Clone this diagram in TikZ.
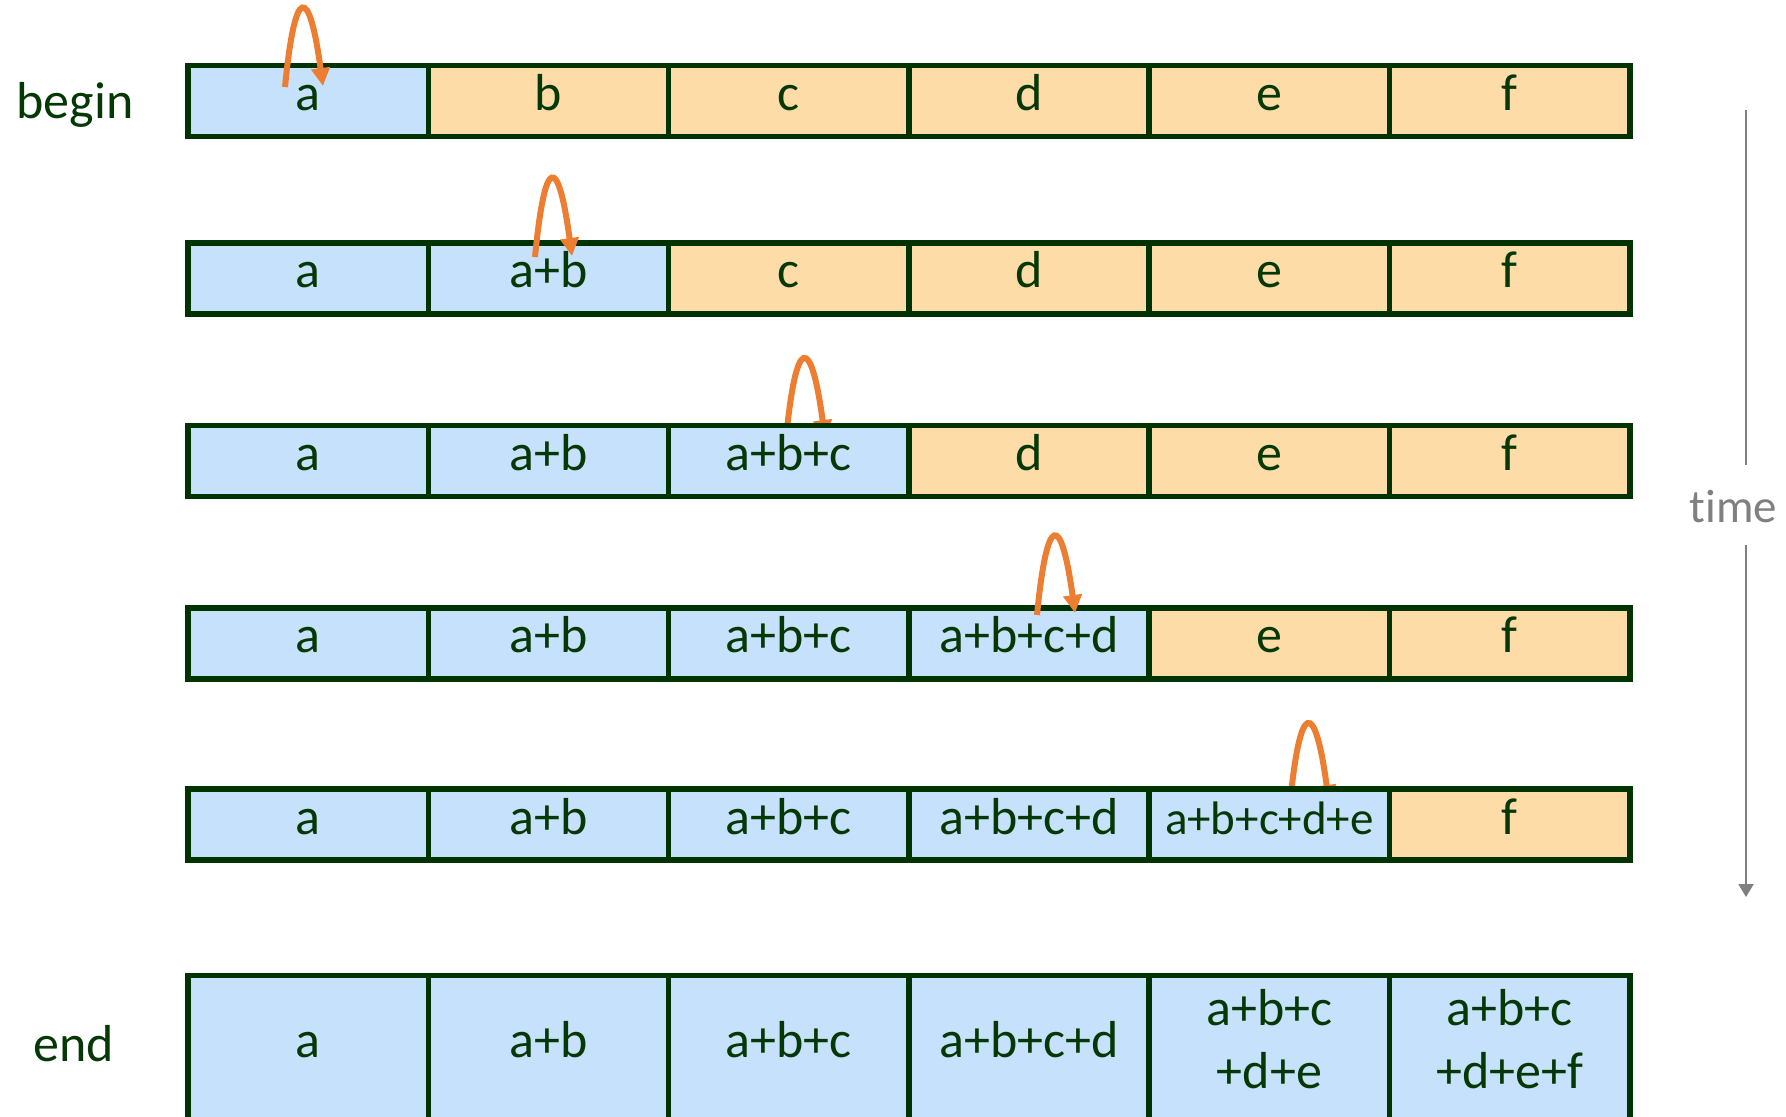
\documentclass[tikz,border=0pt]{standalone}
\usepackage{fontspec}
\setmainfont{Carlito}[Ligatures=NoCommon]
\usetikzlibrary{arrows.meta}
\definecolor{cellblue}{HTML}{C5E1FC}
\definecolor{cellorange}{HTML}{FDDCA8}
\definecolor{edgegreen}{HTML}{003300}
\definecolor{ink}{HTML}{063806}
\definecolor{loopcol}{HTML}{ED7D31}
\definecolor{timegray}{HTML}{808080}
\begin{document}
\begin{tikzpicture}[x=0.5pt,y=-0.5pt,
  cell/.style={draw=edgegreen, line width=2.8pt, minimum width=120.15pt, minimum height=35.5pt,
    inner sep=0pt, outer sep=0pt, text=ink, font=\fontsize{26pt}{31.5pt}\selectfont,
    text height=17pt, text depth=7.6pt},
  done/.style={cell, fill=cellblue},
  todo/.style={cell, fill=cellorange},
  lastrow/.style={done, minimum height=72.5pt},
  twoline/.style={lastrow, text height=45pt, text depth=5pt},
  small/.style={font=\fontsize{23.5pt}{28pt}\selectfont},
  rowlabel/.style={anchor=base, text=ink, font=\fontsize{26pt}{31.5pt}\selectfont, inner sep=0pt},
  loop/.style={draw=loopcol, line width=3pt, -{Triangle[length=9pt,width=9pt]}},
  timeline/.style={draw=timegray, line width=1pt}]
\useasboundingbox (0,0) rectangle (1786,1116);
\clip (0,0) rectangle (1786,1116);

% arrows hidden behind the boxes (rows 3 and 5)
\coordinate (s3) at (786,439); \coordinate (e3) at (825,438);
\draw[loop] (s3) .. controls (796,334) and (811,334) .. (e3);
\coordinate (s5) at (1290,804); \coordinate (e5) at (1329,803);
\draw[loop] (s5) .. controls (1300,699) and (1315,699) .. (e5);

% row 1
\node[done] (c11) at (308.2,100.8) {a};
\node[todo] (c12) at (548.5,100.8) {b};
\node[todo] (c13) at (788.8,100.8) {c};
\node[todo] (c14) at (1029.1,100.8) {d};
\node[todo] (c15) at (1269.4,100.8) {e};
\node[todo] (c16) at (1509.7,100.8) {f};
% row 2
\node[done] (c21) at (308.2,278.5) {a};
\node[done] (c22) at (548.5,278.5) {a+b};
\node[todo] (c23) at (788.8,278.5) {c};
\node[todo] (c24) at (1029.1,278.5) {d};
\node[todo] (c25) at (1269.4,278.5) {e};
\node[todo] (c26) at (1509.7,278.5) {f};
% row 3
\node[done] (c31) at (308.2,460.8) {a};
\node[done] (c32) at (548.5,460.8) {a+b};
\node[done] (c33) at (788.8,460.8) {a+b+c};
\node[todo] (c34) at (1029.1,460.8) {d};
\node[todo] (c35) at (1269.4,460.8) {e};
\node[todo] (c36) at (1509.7,460.8) {f};
% row 4
\node[done] (c41) at (308.2,643.5) {a};
\node[done] (c42) at (548.5,643.5) {a+b};
\node[done] (c43) at (788.8,643.5) {a+b+c};
\node[done] (c44) at (1029.1,643.5) {a+b+c+d};
\node[todo] (c45) at (1269.4,643.5) {e};
\node[todo] (c46) at (1509.7,643.5) {f};
% row 5
\node[done] (c51) at (308.2,824.6) {a};
\node[done] (c52) at (548.5,824.6) {a+b};
\node[done] (c53) at (788.8,824.6) {a+b+c};
\node[done] (c54) at (1029.1,824.6) {a+b+c+d};
\node[done, small] (c55) at (1269.4,824.6) {a+b+c+d+e};
\node[todo] (c56) at (1509.7,824.6) {f};
% row 6
\node[lastrow] (c61) at (308.2,1048) {a};
\node[lastrow] (c62) at (548.5,1048) {a+b};
\node[lastrow] (c63) at (788.8,1048) {a+b+c};
\node[lastrow] (c64) at (1029.1,1048) {a+b+c+d};
\node[twoline] (c65) at (1269.4,1048) {\begin{tabular}[b]{@{}c@{}}a+b+c\\+d+e\end{tabular}};
\node[twoline] (c66) at (1509.7,1048) {\begin{tabular}[b]{@{}c@{}}a+b+c\\+d+e+f\end{tabular}};

% arrows over the boxes (rows 1, 2, 4)
\coordinate (s1) at (285,87); \coordinate (e1) at (323,86);
\draw[loop] (s1) .. controls (295,-16) and (309,-16) .. (e1);
\coordinate (s2) at (535,257); \coordinate (e2) at (572,256);
\draw[loop] (s2) .. controls (545,154) and (558,154) .. (e2);
\coordinate (s4) at (1037,615); \coordinate (e4) at (1075,613);
\draw[loop] (s4) .. controls (1047,512) and (1061,512) .. (e4);

% row labels
\node[rowlabel] (begin) at (75,118) {begin};
\node[rowlabel] (end) at (74,1061) {end};

% time axis
\node[anchor=base, inner sep=0pt, text=timegray, small] (time) at (1733.5,522) {time};
\coordinate (t0) at (1746,110);
\coordinate (t1) at (1746,465);
\coordinate (t2) at (1746,545);
\coordinate (t3) at (1746,897);
\draw[timeline] (t0) -- (t1);
\draw[timeline, -{Triangle[length=6.5pt,width=7.5pt]}] (t2) -- (t3);
\end{tikzpicture}
\end{document}
